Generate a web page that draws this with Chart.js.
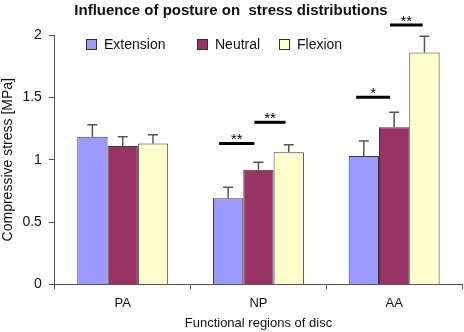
<!DOCTYPE html>
<html>
<head>
<meta charset="utf-8">
<script src="https://cdn.jsdelivr.net/npm/chart.js@4.4.1/dist/chart.umd.min.js"></script>
<style>
  body { margin: 0; background: #fff; }
</style>
</head>
<body>
<canvas id="chart" width="464" height="332"></canvas>
<script>
const regions = ["PA", "NP", "AA"];
const postures = ["Extension", "Neutral", "Flexion"];
const extension = [1.185, 0.69, 1.03];
const neutral = [1.11, 0.92, 1.26];
const flexion = [1.13, 1.06, 1.86];
const extensionErr = [0.095, 0.09, 0.12];
const neutralErr = [0.075, 0.06, 0.12];
const flexionErr = [0.07, 0.06, 0.13];
const yTicks = [0, 0.5, 1, 1.5, 2];

// significance marks: label, region index, start/end offset in category widths, height in MPa
const sigLabels = ["**", "**", "*", "**"];
const sigRegion = [1, 1, 2, 2];
const sigFrom = [-0.29, -0.03, -0.28, -0.03];
const sigTo = [-0.03, 0.2, -0.03, 0.21];
const sigLevel = [1.13, 1.30, 1.50, 2.08];

const colors = ["#9999ff", "#993366", "#ffffcc"];
const FONT = "'Liberation Sans', Arial, Helvetica, sans-serif";

const errorBars = {
  id: "errorBars",
  afterDatasetsDraw(chart) {
    const ctx = chart.ctx;
    const y = chart.scales.y;
    ctx.save();
    ctx.strokeStyle = "#555";
    ctx.lineWidth = 1.5;
    chart.data.datasets.forEach((ds, i) => {
      const meta = chart.getDatasetMeta(i);
      meta.data.forEach((bar, j) => {
        const top = y.getPixelForValue(ds.data[j]);
        const end = y.getPixelForValue(ds.data[j] + ds.errors[j]);
        ctx.beginPath();
        ctx.moveTo(bar.x, top);
        ctx.lineTo(bar.x, end);
        ctx.moveTo(bar.x - 5, end);
        ctx.lineTo(bar.x + 5, end);
        ctx.stroke();
      });
    });
    ctx.restore();
  }
};

const extras = {
  id: "extras",
  afterDraw(chart) {
    const ctx = chart.ctx;
    const x = chart.scales.x;
    const y = chart.scales.y;
    const catW = x.getPixelForValue(1) - x.getPixelForValue(0);
    ctx.save();
    // significance bars
    ctx.strokeStyle = "#000";
    ctx.fillStyle = "#000";
    ctx.lineWidth = 3;
    ctx.font = "15px " + FONT;
    ctx.textAlign = "center";
    ctx.textBaseline = "alphabetic";
    sigLabels.forEach((lab, k) => {
      const c = x.getPixelForValue(sigRegion[k]);
      const x0 = c + sigFrom[k] * catW;
      const x1 = c + sigTo[k] * catW;
      const yy = y.getPixelForValue(sigLevel[k]);
      ctx.beginPath();
      ctx.moveTo(x0, yy);
      ctx.lineTo(x1, yy);
      ctx.stroke();
      ctx.fillText(lab, (x0 + x1) / 2, yy + 1);
    });
    // legend inside the plot
    ctx.lineWidth = 1;
    ctx.strokeStyle = "#333";
    ctx.font = "14px " + FONT;
    ctx.textAlign = "left";
    ctx.textBaseline = "middle";
    const legendX = [86, 197, 279];
    const top = chart.chartArea.top + 4;
    chart.data.datasets.forEach((ds, i) => {
      ctx.fillStyle = ds.backgroundColor;
      ctx.fillRect(legendX[i] + 0.5, top + 0.5, 10, 10);
      ctx.strokeRect(legendX[i] + 0.5, top + 0.5, 10, 10);
      ctx.fillStyle = "#111";
      ctx.fillText(ds.label, legendX[i] + 18, top + 6);
    });
    ctx.restore();
  }
};

const seriesValues = [extension, neutral, flexion];
const seriesErrors = [extensionErr, neutralErr, flexionErr];

new Chart(document.getElementById("chart"), {
  type: "bar",
  data: {
    labels: regions,
    datasets: postures.map((name, i) => ({
      label: name,
      data: seriesValues[i],
      errors: seriesErrors[i],
      backgroundColor: colors[i],
      borderColor: "#3a3a3a",
      borderWidth: 1,
      borderSkipped: "bottom",
      categoryPercentage: 0.67,
      barPercentage: 1.0
    }))
  },
  options: {
    responsive: false,
    animation: false,
    layout: { padding: { top: 0, right: 2, left: 0, bottom: 2 } },
    plugins: {
      legend: { display: false },
      tooltip: { enabled: false },
      title: {
        display: true,
        text: "Influence of posture on  stress distributions",
        color: "#111",
        font: { family: FONT, size: 15, weight: "bold", lineHeight: 1.2 },
        padding: { top: 2, bottom: 15 }
      }
    },
    scales: {
      x: {
        grid: { display: true, drawOnChartArea: false, drawTicks: true, tickLength: 5, color: "#555", offset: true },
        border: { display: true, color: "#555", width: 1 },
        ticks: { color: "#111", font: { family: FONT, size: 13 }, padding: 6 },
        title: { display: true, text: "Functional regions of disc", color: "#111", font: { family: FONT, size: 13, lineHeight: 1.0 }, padding: { top: 0, bottom: 0 } }
      },
      y: {
        min: 0,
        max: 2,
        afterBuildTicks(axis) { axis.ticks = yTicks.map(v => ({ value: v })); },
        grid: { display: true, drawOnChartArea: false, drawTicks: true, tickLength: 6, color: "#555" },
        border: { display: true, color: "#555", width: 1 },
        ticks: { color: "#111", font: { family: FONT, size: 14 }, padding: 7, callback: v => String(v) },
        title: { display: true, text: "Compressive stress [MPa]", color: "#111", font: { family: FONT, size: 14, lineHeight: 1.1 }, padding: { top: 0, bottom: 0 } }
      }
    }
  },
  plugins: [errorBars, extras]
});
</script>
</body>
</html>
